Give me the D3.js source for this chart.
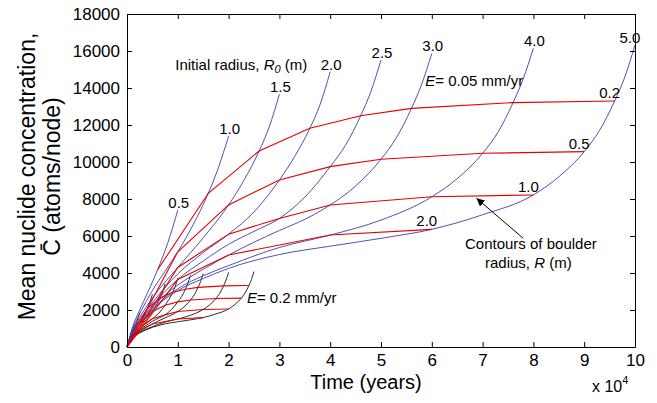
<!DOCTYPE html>
<html>
<head>
<meta charset="utf-8">
<script src="https://cdn.jsdelivr.net/npm/d3@7"></script>
<style>
  body { margin: 0; background: #fff; }
  text { font-family: "Liberation Sans", Arial, Helvetica, sans-serif; fill: #000; }
</style>
</head>
<body>
<div id="chart"></div>
<script>
// time in units of 10^4 years, concentration in atoms/node
const xTicks = [0, 1, 2, 3, 4, 5, 6, 7, 8, 9, 10];
const yTicks = [0, 2000, 4000, 6000, 8000, 10000, 12000, 14000, 16000, 18000];

const initialRadii = ["0.5", "1.0", "1.5", "2.0", "2.5", "3.0", "4.0", "5.0"];
const contourRadii = ["0.2", "0.5", "1.0", "2.0"];

// E = 0.05 mm/yr (blue)
const slow05 = [[0,0],[0.1,1000],[0.25,2000],[0.4,2900],[0.6,4160],[0.8,5600],[1.0,7400]];
const slow10 = [[0,0],[0.1,900],[0.25,1800],[0.5,3050],[0.75,4100],[1,5150],[1.3,6600],[1.6,8310],[1.8,9700],[2,11400]];
const slow15 = [[0,0],[0.1,850],[0.25,1600],[0.5,2650],[1,4300],[1.5,5900],[2,7680],[2.3,9000],[2.6,10590],[2.8,11900],[3,13660]];
const slow20 = [[0,0],[0.1,800],[0.25,1450],[0.5,2400],[1,3950],[1.5,5100],[2,6100],[2.5,7300],[3,9030],[3.3,10300],[3.6,11820],[3.8,13100],[4,14880]];
const slow25 = [[0,0],[0.1,780],[0.25,1350],[0.5,2250],[1,3650],[1.5,4650],[2,5550],[2.5,6250],[3,6950],[3.5,8100],[4,9750],[4.3,10900],[4.6,12500],[4.8,13800],[5,15510]];
const slow30 = [[0,0],[0.1,760],[0.25,1300],[0.5,2150],[1,3350],[1.5,4200],[2,4970],[3,6300],[3.5,6900],[4,7680],[4.5,8700],[5,10150],[5.3,11300],[5.6,12900],[5.8,14200],[6,15870]];
const slow40 = [[0,0],[0.1,740],[0.25,1250],[0.5,2050],[1,3150],[1.5,3850],[2,4400],[3,5380],[4,6050],[5,6860],[6,8120],[6.5,9100],[7,10470],[7.3,11600],[7.6,13210],[7.8,14500],[8,16150]];
const slow50 = [[0,0],[0.1,730],[0.25,1200],[0.5,2000],[1,3050],[1.5,3700],[2,4250],[3,5000],[4,5450],[5,5875],[6,6360],[7,7150],[8,8220],[8.5,9200],[9,10560],[9.3,11700],[9.6,13300],[9.8,14600],[10,16320]];

// E = 0.2 mm/yr (black)
const fast05 = [[0,0],[0.025,250],[0.0625,500],[0.1,725],[0.15,1040],[0.2,1400],[0.25,1850]];
const fast10 = [[0,0],[0.025,225],[0.0625,450],[0.125,763],[0.1875,1025],[0.25,1288],[0.325,1650],[0.4,2078],[0.45,2425],[0.5,2850]];
const fast15 = [[0,0],[0.025,213],[0.0625,400],[0.125,663],[0.25,1075],[0.375,1475],[0.5,1920],[0.575,2250],[0.65,2648],[0.7,2975],[0.75,3415]];
const fast20 = [[0,0],[0.025,200],[0.0625,363],[0.125,600],[0.25,988],[0.375,1275],[0.5,1525],[0.625,1825],[0.75,2258],[0.825,2575],[0.9,2955],[0.95,3275],[1,3720]];
const fast25 = [[0,0],[0.025,195],[0.0625,338],[0.125,563],[0.25,913],[0.375,1163],[0.5,1388],[0.625,1563],[0.75,1738],[0.875,2025],[1,2438],[1.075,2725],[1.15,3125],[1.2,3450],[1.25,3878]];
const fast30 = [[0,0],[0.025,190],[0.0625,325],[0.125,538],[0.25,838],[0.375,1050],[0.5,1243],[0.75,1575],[0.875,1725],[1,1920],[1.125,2175],[1.25,2538],[1.325,2825],[1.4,3225],[1.45,3550],[1.5,3968]];
const fast40 = [[0,0],[0.025,185],[0.0625,313],[0.125,513],[0.25,788],[0.375,963],[0.5,1100],[0.75,1345],[1,1513],[1.25,1715],[1.5,2030],[1.625,2275],[1.75,2618],[1.825,2900],[1.9,3303],[1.95,3625],[2,4038]];
const fast50 = [[0,0],[0.025,183],[0.0625,300],[0.125,500],[0.25,763],[0.375,925],[0.5,1063],[0.75,1250],[1,1363],[1.25,1469],[1.5,1590],[1.75,1788],[2,2055],[2.125,2300],[2.25,2640],[2.325,2925],[2.4,3325],[2.45,3650],[2.5,4080]];

// contours of boulder radius R (red)
const slowR02 = [[0.6,4160],[1.6,8310],[2.6,10590],[3.6,11820],[4.6,12500],[5.6,12900],[7.6,13210],[9.6,13300]];
const slowR05 = [[0,0],[1,5150],[2,7680],[3,9030],[4,9750],[5,10150],[7,10470],[9,10560]];
const slowR10 = [[0,0],[1,4300],[2,6100],[3,6950],[4,7680],[6,8120],[8,8220]];
const slowR20 = [[0,0],[1,3650],[2,4970],[4,6050],[6,6360]];
const fastR02 = [[0.15,1040],[0.4,2078],[0.65,2648],[0.9,2955],[1.15,3125],[1.4,3225],[1.9,3303],[2.4,3325]];
const fastR05 = [[0,0],[0.25,1288],[0.5,1920],[0.75,2258],[1,2438],[1.25,2538],[1.75,2618],[2.25,2640]];
const fastR10 = [[0,0],[0.25,1075],[0.5,1525],[0.75,1738],[1,1920],[1.5,2030],[2,2055]];
const fastR20 = [[0,0],[0.25,913],[0.5,1243],[1,1513],[1.5,1590]];

const slowCurves = [slow05, slow10, slow15, slow20, slow25, slow30, slow40, slow50];
const fastCurves = [fast05, fast10, fast15, fast20, fast25, fast30, fast40, fast50];
const slowContours = [slowR02, slowR05, slowR10, slowR20];
const fastContours = [fastR02, fastR05, fastR10, fastR20];

const width = 657, height = 403;
const margin = {top: 14, right: 22, bottom: 56, left: 127};

const svg = d3.select("#chart").append("svg")
  .attr("width", width)
  .attr("height", height);

const x = d3.scaleLinear().domain([0, 10]).range([margin.left, width - margin.right]);
const y = d3.scaleLinear().domain([0, 18000]).range([height - margin.bottom, margin.top]);

const smooth = d3.line().x(d => x(d[0])).y(d => y(d[1])).curve(d3.curveMonotoneX);
const straight = d3.line().x(d => x(d[0])).y(d => y(d[1]));

// curves
svg.append("g")
  .attr("fill", "none")
  .attr("stroke", "#151515")
  .attr("stroke-width", 0.9)
  .selectAll("path")
  .data(fastCurves)
  .join("path")
  .attr("d", smooth);

svg.append("g")
  .attr("fill", "none")
  .attr("stroke", "#3c3ca8")
  .attr("stroke-width", 0.9)
  .selectAll("path")
  .data(slowCurves)
  .join("path")
  .attr("d", smooth);

svg.append("g")
  .attr("fill", "none")
  .attr("stroke", "#e60000")
  .attr("stroke-width", 1.1)
  .selectAll("path")
  .data(slowContours.concat(fastContours))
  .join("path")
  .attr("d", straight);

// axes, ticks inward on all four sides
const axisStyle = g => {
  g.select(".domain").attr("stroke", "#000").attr("stroke-width", 1);
  g.selectAll(".tick line").attr("stroke", "#000");
  g.selectAll("text").attr("font-size", 17).attr("font-family", null);
};

svg.append("g")
  .attr("transform", `translate(0,${y(0)})`)
  .call(d3.axisBottom(x).tickValues(xTicks).tickFormat(d3.format("d"))
    .tickSizeInner(-5).tickSizeOuter(0).tickPadding(7))
  .call(axisStyle);

svg.append("g")
  .attr("transform", `translate(${x(0)},0)`)
  .call(d3.axisLeft(y).tickValues(yTicks).tickFormat(d3.format("d"))
    .tickSizeInner(-5).tickSizeOuter(0).tickPadding(7))
  .call(axisStyle);

svg.append("g")
  .attr("transform", `translate(0,${y(18000)})`)
  .call(d3.axisTop(x).tickValues(xTicks).tickSizeInner(-5).tickSizeOuter(0).tickFormat(""))
  .call(axisStyle);

svg.append("g")
  .attr("transform", `translate(${x(10)},0)`)
  .call(d3.axisRight(y).tickValues(yTicks).tickSizeInner(-5).tickSizeOuter(0).tickFormat(""))
  .call(axisStyle);

// initial radius labels at curve ends
svg.append("g")
  .attr("font-size", 15)
  .attr("text-anchor", "middle")
  .selectAll("text")
  .data(slowCurves)
  .join("text")
  .attr("x", d => Math.min(x(d[d.length - 1][0]) + 1, x(10) - 5))
  .attr("y", d => y(d[d.length - 1][1]) - 2)
  .text((d, i) => initialRadii[i]);

// contour labels
svg.append("g")
  .attr("font-size", 15)
  .attr("text-anchor", "middle")
  .selectAll("text")
  .data(slowContours)
  .join("text")
  .attr("x", d => x(d[d.length - 1][0]) - 5)
  .attr("y", d => y(d[d.length - 1][1]) - 3)
  .text((d, i) => contourRadii[i]);

// annotations
const note = svg.append("g").attr("font-size", 15);

const init = note.append("text").attr("x", x(0.95)).attr("y", y(14970));
init.append("tspan").text("Initial radius, ");
init.append("tspan").attr("font-style", "italic").text("R");
init.append("tspan").attr("font-style", "italic").attr("font-size", 11).attr("dy", 3).text("0");
init.append("tspan").attr("dy", -3).text(" (m)");

const e1 = note.append("text").attr("x", x(5.87)).attr("y", y(14110));
e1.append("tspan").attr("font-style", "italic").text("E");
e1.append("tspan").text("= 0.05 mm/yr");

const e2 = note.append("text").attr("x", x(2.36)).attr("y", y(2380));
e2.append("tspan").attr("font-style", "italic").text("E");
e2.append("tspan").text("= 0.2 mm/yr");

note.append("text").attr("x", x(7.95)).attr("y", y(5300))
  .attr("text-anchor", "middle").text("Contours of boulder");
const rr = note.append("text").attr("x", x(7.9)).attr("y", y(4270)).attr("text-anchor", "middle");
rr.append("tspan").text("radius, ");
rr.append("tspan").attr("font-style", "italic").text("R");
rr.append("tspan").text(" (m)");

// arrow to the contours
svg.append("defs").append("marker")
  .attr("id", "head")
  .attr("viewBox", "0 0 10 10")
  .attr("refX", 10).attr("refY", 5)
  .attr("markerWidth", 8).attr("markerHeight", 8)
  .attr("markerUnits", "userSpaceOnUse")
  .attr("orient", "auto")
  .append("path").attr("d", "M0,0L10,5L0,10z").attr("fill", "#000");

svg.append("line")
  .attr("x1", x(7.8)).attr("y1", y(5875))
  .attr("x2", x(6.88)).attr("y2", y(8040))
  .attr("stroke", "#000").attr("stroke-width", 1)
  .attr("marker-end", "url(#head)");

// axis titles
svg.append("text")
  .attr("x", 366).attr("y", 389)
  .attr("text-anchor", "middle").attr("font-size", 20)
  .text("Time (years)");

const mult = svg.append("text").attr("x", 592).attr("y", 392).attr("font-size", 16);
mult.append("tspan").text("x 10");
mult.append("tspan").attr("font-size", 11).attr("dy", -8).text("4");

const yTitle = svg.append("text")
  .attr("transform", `translate(35,${(y(0) + y(18000)) / 2 - 4}) rotate(-90)`)
  .attr("text-anchor", "middle").attr("font-size", 23);
yTitle.append("tspan").attr("x", 0).attr("y", 0).text("Mean nuclide concentration,");
yTitle.append("tspan").attr("x", 0).attr("y", 25).text("C\u0304 (atoms/node)");
</script>
</body>
</html>
